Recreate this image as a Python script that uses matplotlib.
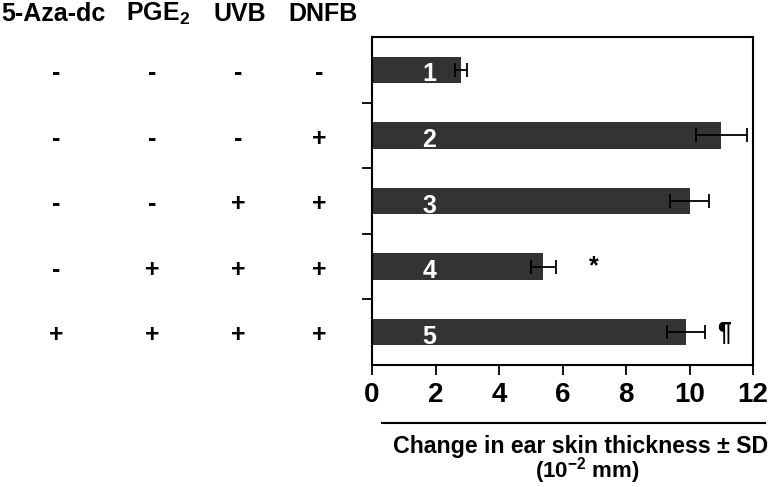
import matplotlib
matplotlib.use("Agg")
import matplotlib.pyplot as plt
from matplotlib.transforms import blended_transform_factory
from matplotlib.lines import Line2D

plt.rcParams["font.family"] = ["Liberation Sans", "DejaVu Sans"]
plt.rcParams["font.weight"] = "bold"
plt.rcParams["mathtext.fontset"] = "custom"
plt.rcParams["mathtext.bf"] = "Liberation Sans:bold"
plt.rcParams["mathtext.rm"] = "Liberation Sans:bold"

# data
groups = ["1", "2", "3", "4", "5"]
values = [2.8, 11.0, 10.0, 5.4, 9.9]
errors = [0.2, 0.8, 0.6, 0.4, 0.6]
marks = ["", "", "", "*", "\u00b6"]

treatments = ["5-Aza-dc", "PGE$_\\mathbf{2}$", "UVB", "DNFB"]
signs = [
    ["-", "-", "-", "-"],
    ["-", "-", "-", "+"],
    ["-", "-", "+", "+"],
    ["-", "+", "+", "+"],
    ["+", "+", "+", "+"],
]

W, H = 773, 487
fig = plt.figure(figsize=(W / 100, H / 100), dpi=100)
ax = fig.add_axes([372 / W, 1 - 365 / H, (753 - 372) / W, (365 - 37) / H])

pos = list(range(len(groups)))
ax.barh(pos, values, height=0.4, color="#333333", zorder=2)
ax.errorbar(values, pos, xerr=errors, fmt="none", ecolor="black",
            elinewidth=1.3, capsize=5, capthick=1.3, zorder=3)

for i, g in enumerate(groups):
    ax.text(1.8, i + 0.07, g, color="white", fontsize=18, fontweight="bold",
            ha="center", va="center", zorder=4)
    if marks[i]:
        off = 1.2 if marks[i] == "*" else 0.6
        ax.text(values[i] + errors[i] + off, i, marks[i], fontsize=18,
                fontweight="bold", ha="center", va="center")

ax.set_xlim(0, 12)
ax.set_ylim(4.5, -0.5)
ax.set_xticks(range(0, 13, 2))
ax.set_yticks([0.5, 1.5, 2.5, 3.5])
ax.set_yticklabels([])
ax.tick_params(axis="both", direction="out", length=7, width=1.3)
ax.tick_params(axis="x", labelsize=20, pad=5)
for lab in ax.get_xticklabels():
    lab.set_fontweight("bold")
for s in ax.spines.values():
    s.set_linewidth(1.5)

# treatment table on the left
trans = blended_transform_factory(fig.transFigure, ax.transData)
col_x = [56, 152, 238, 319]
header_x = [53, 158, 240, 323]
for j, t in enumerate(treatments):
    fig.text(header_x[j] / W, 1 - 14 / H, t, fontsize=18, fontweight="bold",
             ha="center", va="center")
for i, row in enumerate(signs):
    for j, s in enumerate(row):
        ax.text(col_x[j] / W, i + 0.05, s, transform=trans, fontsize=18,
                fontweight="bold", ha="center", va="center", clip_on=False)

# x label with rule above
fig.add_artist(Line2D([382 / W, 765 / W], [1 - 423 / H, 1 - 423 / H],
                      color="black", linewidth=1.5))
fig.text(581 / W, 1 - 453 / H, "Change in ear skin thickness \u00b1 SD",
         fontsize=16.7, fontweight="bold", ha="center", va="baseline")
fig.text(587 / W, 1 - 478 / H, "(10$^{\\mathbf{-2}}$ mm)",
         fontsize=16, fontweight="bold", ha="center", va="baseline")

fig.savefig("out.png", dpi=100)
